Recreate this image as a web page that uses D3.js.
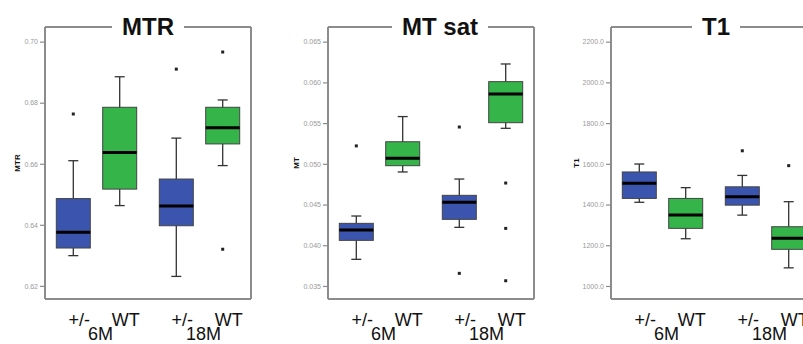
<!DOCTYPE html>
<html>
<head>
<meta charset="utf-8">
<script src="https://cdn.jsdelivr.net/npm/d3@7"></script>
<style>
  body { margin: 0; background: #fff; }
  svg { display: block; font-family: "Liberation Sans", Arial, sans-serif; }
</style>
</head>
<body>
<div id="chart"></div>
<script>
// categories
const groups = ["6M", "18M"];
const genotypes = ["+/-", "WT"];
const boxColors = ["#3b55ae", "#35b44a"];

// panel texts and axes
const titles = ["MTR", "MT sat", "T1"];
const yLabels = ["MTR", "MT", "T1"];
const yLimits = [[0.6157, 0.7048], [0.0334, 0.0668], [936, 2272]];
const mtrTicks = [0.62, 0.64, 0.66, 0.68, 0.70];
const mtTicks = [0.035, 0.040, 0.045, 0.050, 0.055, 0.060, 0.065];
const t1Ticks = [1000, 1200, 1400, 1600, 1800, 2000, 2200];
const tickFormats = [".2f", ".3f", ".1f"];

// boxes in order +/- 6M, WT 6M, +/- 18M, WT 18M : [low whisker, q1, median, q3, high whisker]
const mtrBoxes = [
  [0.6299, 0.6324, 0.6376, 0.6486, 0.6610],
  [0.6463, 0.6517, 0.6637, 0.6785, 0.6885],
  [0.6231, 0.6397, 0.6462, 0.6550, 0.6684],
  [0.6594, 0.6665, 0.6718, 0.6785, 0.6809]
];
const mtrOutliers = [[0.6763], [], [0.6910], [0.6966, 0.6320]];

const mtBoxes = [
  [0.03827, 0.04060, 0.04187, 0.04269, 0.04359],
  [0.04900, 0.04977, 0.05067, 0.05271, 0.05580],
  [0.04220, 0.04318, 0.04527, 0.04613, 0.04813],
  [0.05436, 0.05505, 0.05858, 0.06009, 0.06226]
];
const mtOutliers = [[0.0522], [], [0.05452, 0.03655], [0.04764, 0.04207, 0.03564]];

const t1Boxes = [
  [1411, 1430, 1504, 1560, 1599],
  [1232, 1283, 1348, 1430, 1483],
  [1348, 1397, 1438, 1487, 1543],
  [1089, 1180, 1234, 1291, 1414]
];
const t1Outliers = [[], [], [1664], [1591]];

const allTicks = [mtrTicks, mtTicks, t1Ticks];
const allBoxes = [mtrBoxes, mtBoxes, t1Boxes];
const allOutliers = [mtrOutliers, mtOutliers, t1Outliers];

const width = 803, height = 344;
const frameW = 206, plotTop = 27, plotBottom = 299;
const boxW = 34, capW = 10;
const frameColor = "#8c8c8c";
const titleShift = [0, 9, 2];

const svg = d3.select("#chart").append("svg")
  .attr("width", width)
  .attr("height", height);

titles.forEach((title, i) => {
  const left = 45 + i * 283;
  const g = svg.append("g").attr("transform", `translate(${left},0)`);

  const y = d3.scaleLinear().domain(yLimits[i]).range([plotBottom, plotTop]);
  const xGroup = d3.scaleBand().domain(groups).range([0, frameW]);
  const xGeno = d3.scalePoint().domain(genotypes)
    .range([0, xGroup.bandwidth()]).padding(0.61);

  const boxes = allBoxes[i].map((s, j) => ({
    group: groups[Math.floor(j / 2)],
    geno: genotypes[j % 2],
    color: boxColors[j % 2],
    s: s,
    out: allOutliers[i][j]
  }));
  const cx = d => xGroup(d.group) + xGeno(d.geno);

  // y axis
  const axis = d3.axisLeft(y)
    .tickValues(allTicks[i])
    .tickFormat(d3.format(tickFormats[i]))
    .tickSize(5)
    .tickPadding(2);
  const ag = g.append("g").call(axis);
  ag.select(".domain").remove();
  ag.selectAll(".tick line").attr("stroke", frameColor).attr("stroke-width", 1.2);
  ag.selectAll(".tick text")
    .attr("fill", "#9a9a9a")
    .style("font-size", "7px")
    .style("font-family", "'Liberation Sans', Arial, sans-serif");

  const ab = ag.node().getBBox();
  g.append("text")
    .attr("transform", `translate(${ab.x - 4},${(plotTop + plotBottom) / 2}) rotate(-90)`)
    .attr("text-anchor", "middle")
    .style("font-size", "8px")
    .style("font-weight", "bold")
    .attr("fill", "#111")
    .text(yLabels[i]);

  // title
  const tt = g.append("text")
    .attr("x", frameW / 2 + titleShift[i])
    .attr("y", plotTop + 8)
    .attr("text-anchor", "middle")
    .style("font-size", "24px")
    .style("font-weight", "bold")
    .attr("fill", "#111")
    .text(title);
  const tb = tt.node().getBBox();

  // frame
  const fl = [
    [0, plotTop, 0, plotBottom],
    [0, plotBottom, frameW, plotBottom],
    [frameW, plotTop, frameW, plotBottom],
    [0, plotTop, tb.x - 10, plotTop],
    [tb.x + tb.width + 10, plotTop, frameW, plotTop]
  ];
  g.selectAll(".frame").data(fl).enter().append("line")
    .attr("x1", d => d[0]).attr("y1", d => d[1])
    .attr("x2", d => d[2]).attr("y2", d => d[3])
    .attr("stroke", frameColor)
    .attr("stroke-width", 2);

  // boxes
  const bg = g.selectAll(".box").data(boxes).enter().append("g").attr("class", "box");

  bg.append("line")
    .attr("x1", cx).attr("x2", cx)
    .attr("y1", d => y(d.s[0])).attr("y2", d => y(d.s[4]))
    .attr("stroke", "#333").attr("stroke-width", 1.3);
  [0, 4].forEach(k => {
    bg.append("line")
      .attr("x1", d => cx(d) - capW / 2).attr("x2", d => cx(d) + capW / 2)
      .attr("y1", d => y(d.s[k])).attr("y2", d => y(d.s[k]))
      .attr("stroke", "#333").attr("stroke-width", 1.3);
  });

  bg.append("rect")
    .attr("x", d => cx(d) - boxW / 2)
    .attr("width", boxW)
    .attr("y", d => y(d.s[3]))
    .attr("height", d => y(d.s[1]) - y(d.s[3]))
    .attr("fill", d => d.color)
    .attr("stroke", "#444")
    .attr("stroke-width", 1);

  bg.append("line")
    .attr("x1", d => cx(d) - boxW / 2).attr("x2", d => cx(d) + boxW / 2)
    .attr("y1", d => y(d.s[2])).attr("y2", d => y(d.s[2]))
    .attr("stroke", "#000").attr("stroke-width", 3);

  bg.selectAll(".out").data(d => d.out.map(v => ({ v: v, d: d }))).enter()
    .append("rect")
    .attr("x", o => cx(o.d) - 1.5)
    .attr("y", o => y(o.v) - 1.5)
    .attr("width", 3).attr("height", 3)
    .attr("fill", "#222");

  // x labels
  g.selectAll(".geno").data(boxes).enter().append("text")
    .attr("x", d => cx(d) + 6)
    .attr("y", 326)
    .attr("text-anchor", "middle")
    .style("font-size", "18px")
    .attr("fill", "#111")
    .text(d => d.geno);

  g.selectAll(".grp").data(groups).enter().append("text")
    .attr("x", d => xGroup(d) + xGroup.bandwidth() / 2 + 4)
    .attr("y", 340)
    .attr("text-anchor", "middle")
    .style("font-size", "18px")
    .attr("fill", "#111")
    .text(d => d);
});
</script>
</body>
</html>
